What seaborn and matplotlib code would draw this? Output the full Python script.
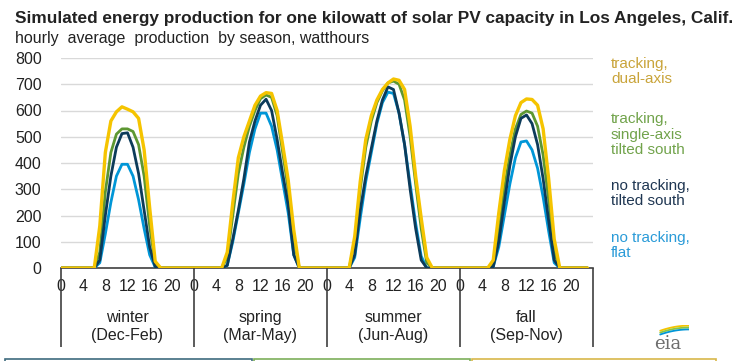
import numpy as np
import pandas as pd
import matplotlib
matplotlib.use("Agg")
import matplotlib.pyplot as plt
import seaborn as sns

# hourly average production (Wh), hours 0..23 for each season
seasons = ["winter\n(Dec-Feb)", "spring\n(Mar-May)", "summer\n(Jun-Aug)", "fall\n(Sep-Nov)"]
hour_ticks = [0, 4, 8, 12, 16, 20]

dual_axis_winter = [0, 0, 0, 0, 0, 0, 0, 160, 440, 560, 595, 614, 605, 595, 570, 450, 230, 25, 0, 0, 0, 0, 0, 0]
dual_axis_spring = [0, 0, 0, 0, 0, 0, 60, 250, 420, 500, 560, 620, 655, 668, 665, 600, 470, 335, 145, 0, 0, 0, 0, 0]
dual_axis_summer = [0, 0, 0, 0, 0, 120, 330, 490, 580, 640, 680, 705, 720, 715, 680, 540, 350, 190, 40, 0, 0, 0, 0, 0]
dual_axis_fall = [0, 0, 0, 0, 0, 0, 30, 210, 370, 490, 580, 630, 644, 642, 620, 530, 340, 110, 0, 0, 0, 0, 0, 0]

single_axis_winter = [0, 0, 0, 0, 0, 0, 0, 60, 290, 440, 510, 530, 530, 520, 470, 350, 160, 15, 0, 0, 0, 0, 0, 0]
single_axis_spring = [0, 0, 0, 0, 0, 0, 40, 200, 360, 460, 540, 600, 645, 659, 650, 580, 440, 300, 110, 0, 0, 0, 0, 0]
single_axis_summer = [0, 0, 0, 0, 0, 100, 300, 460, 560, 630, 675, 705, 712, 700, 640, 500, 320, 150, 20, 0, 0, 0, 0, 0]
single_axis_fall = [0, 0, 0, 0, 0, 0, 10, 130, 300, 430, 530, 585, 598, 590, 540, 430, 260, 60, 0, 0, 0, 0, 0, 0]

tilted_south_winter = [0, 0, 0, 0, 0, 0, 0, 30, 200, 350, 460, 512, 515, 460, 360, 220, 80, 5, 0, 0, 0, 0, 0, 0]
tilted_south_spring = [0, 0, 0, 0, 0, 0, 10, 110, 220, 340, 480, 560, 620, 643, 600, 490, 360, 240, 50, 0, 0, 0, 0, 0]
tilted_south_summer = [0, 0, 0, 0, 0, 50, 220, 350, 456, 560, 640, 690, 680, 590, 470, 300, 150, 30, 0, 0, 0, 0, 0, 0]
tilted_south_fall = [0, 0, 0, 0, 0, 0, 5, 100, 250, 390, 500, 570, 583, 550, 470, 340, 180, 30, 0, 0, 0, 0, 0, 0]

flat_winter = [0, 0, 0, 0, 0, 0, 0, 20, 130, 250, 350, 395, 395, 350, 260, 150, 50, 3, 0, 0, 0, 0, 0, 0]
flat_spring = [0, 0, 0, 0, 0, 0, 10, 100, 210, 320, 440, 530, 590, 590, 540, 450, 330, 210, 50, 0, 0, 0, 0, 0]
flat_summer = [0, 0, 0, 0, 0, 40, 190, 330, 440, 550, 630, 670, 665, 590, 470, 320, 170, 45, 0, 0, 0, 0, 0, 0]
flat_fall = [0, 0, 0, 0, 0, 0, 5, 80, 200, 320, 420, 480, 484, 450, 380, 270, 140, 20, 0, 0, 0, 0, 0, 0]

series = {
    "no tracking, flat": flat_winter + flat_spring + flat_summer + flat_fall,
    "tracking, single-axis tilted south": single_axis_winter + single_axis_spring + single_axis_summer + single_axis_fall,
    "no tracking, tilted south": tilted_south_winter + tilted_south_spring + tilted_south_summer + tilted_south_fall,
    "tracking, dual-axis": dual_axis_winter + dual_axis_spring + dual_axis_summer + dual_axis_fall,
}

line_colors = {"no tracking, flat": "#0096D7",
               "tracking, single-axis tilted south": "#5D9732",
               "no tracking, tilted south": "#0C3B5A",
               "tracking, dual-axis": "#F5C400"}
line_widths = {"no tracking, flat": 2.0, "tracking, single-axis tilted south": 2.0,
               "no tracking, tilted south": 2.0, "tracking, dual-axis": 2.4}

rows = []
for name, vals in series.items():
    for xi, v in enumerate(vals):
        rows.append({"x": xi, "value": v, "series": name})
df = pd.DataFrame(rows)

sns.set_theme(style="white")
plt.rcParams["font.family"] = ["Liberation Sans", "DejaVu Sans"]

fig = plt.figure(figsize=(7.44, 3.61), dpi=100)
ax = fig.add_axes([61 / 744, 1 - 268 / 361, 532 / 744, 210 / 361])

for name in series:
    sns.lineplot(data=df[df["series"] == name], x="x", y="value", color=line_colors[name],
                 lw=line_widths[name], ax=ax, legend=False, zorder=3)

ax.set_xlim(0, 96)
ax.set_ylim(0, 800)
ax.set_yticks(range(0, 801, 100))
ax.yaxis.grid(True, color="#D9D9D9", lw=1)
ax.set_axisbelow(True)
ax.set_xlabel("")
ax.set_ylabel("")
for s in ["top", "right", "left"]:
    ax.spines[s].set_visible(False)
ax.spines["bottom"].set_color("#404040")
ax.spines["bottom"].set_linewidth(1.2)

xt = [s * 24 + h for s in range(4) for h in hour_ticks]
ax.set_xticks(xt)
ax.set_xticklabels([str(h) for s in range(4) for h in hour_ticks])
ax.tick_params(axis="both", length=0, labelsize=11.5, colors="#222222")
ax.tick_params(axis="x", pad=8)
ax.tick_params(axis="y", pad=14)

# season separators and labels
ax.vlines([0, 24, 48, 72, 96], -300, 0, colors="#404040", lw=1.2, clip_on=False, zorder=5)
for i, lab in enumerate(seasons):
    ax.text(i * 24 + 12, -224, lab, ha="center", va="center", fontsize=11.5,
            color="#222222", linespacing=1.25, clip_on=False)

fig.text(15 / 744, 1 - 18 / 361,
         "Simulated energy production for one kilowatt of solar PV capacity in Los Angeles, Calif.",
         fontsize=12.4, fontweight="bold", color="#222222", va="center")
fig.text(15 / 744, 1 - 39 / 361, "hourly  average  production  by season, watthours",
         fontsize=11.5, color="#222222", va="center")

legend_items = [("tracking,\ndual-axis", "#C9A43A", 71.5),
                ("tracking,\nsingle-axis\ntilted south", "#71A34B", 134.5),
                ("no tracking,\ntilted south", "#1F3652", 193.5),
                ("no tracking,\nflat", "#2A9BD8", 245.5)]
for txt, col, yc in legend_items:
    fig.text(611 / 744, 1 - yc / 361, txt, color=col, fontsize=11, va="center",
             ha="left", linespacing=1.1)

# eia logo
fig.text(668 / 744, 1 - 344 / 361, "eia", fontsize=13, family="DejaVu Serif",
         color="#6E6E6E", ha="center", va="center")
lax = fig.add_axes([657 / 744, 1 - 337 / 361, 32 / 744, 12 / 361])
t = np.linspace(0.1, 1, 30)
for k, c in enumerate(["#F5C400", "#8DC63F", "#0096D7"]):
    lax.plot(t, 1 - (1 - t) ** 2 - k * 0.3, color=c, lw=1.3)
lax.set_xlim(0, 1)
lax.set_ylim(-0.8, 1.1)
lax.axis("off")

# edges of the boxes below the chart
for x0, x1, c in [(5, 252, "#3E6B7E"), (254, 470, "#7DAF5A"), (472, 716, "#D8B84A")]:
    fig.add_artist(plt.Rectangle((x0 / 744, -0.05), (x1 - x0) / 744, (1 - 359 / 361) + 0.05,
                                 fill=False, ec=c, lw=1.2, transform=fig.transFigure))

fig.savefig("out.png", dpi=100)
